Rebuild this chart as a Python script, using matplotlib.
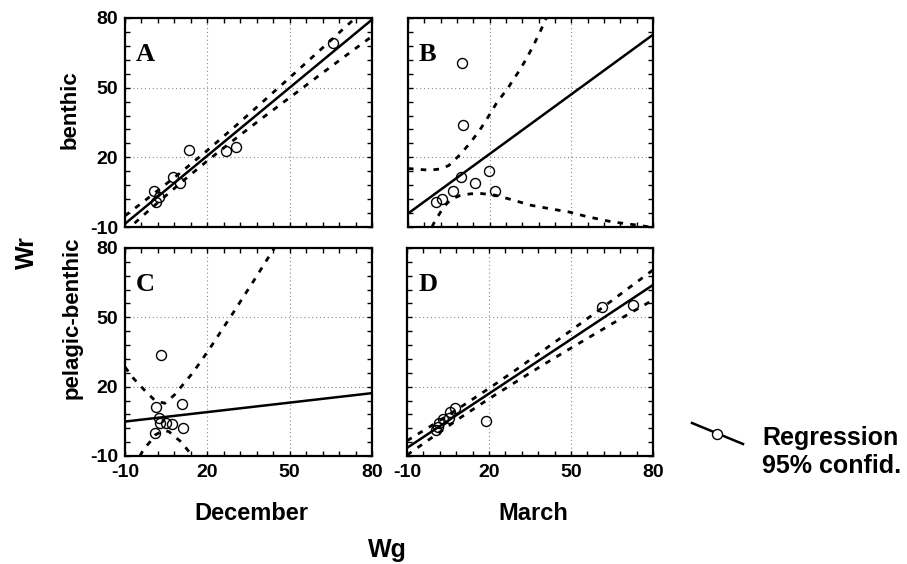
import numpy as np
import matplotlib
matplotlib.use('Agg')
import matplotlib.pyplot as plt
from matplotlib.ticker import FixedLocator
from matplotlib.lines import Line2D

# ---------------- data ----------------
major_ticks = [-10, 20, 50, 80]
tick_labels = ["-10", "20", "50", "80"]
row_labels = ["benthic", "pelagic-benthic"]
col_labels = ["December", "March"]
panel_letters = ["A", "B", "C", "D"]

# scatter points
A_x = [0.6, 2.3, 1.3, 7.5, 10.0, 13.4, 26.8, 30.3, 65.8]
A_y = [5.6, 3.0, 0.8, 11.6, 9.0, 23.1, 22.8, 24.3, 69.2]
B_x = [0.3, 2.4, 6.6, 9.5, 14.6, 19.8, 22.1, 9.9, 10.3]
B_y = [0.9, 1.9, 5.6, 11.7, 8.8, 14.2, 5.6, 60.6, 33.8]
C_x = [3.0, 1.3, 10.7, 2.5, 2.7, 4.9, 7.0, 11.0, 0.9]
C_y = [33.8, 11.3, 12.5, 6.3, 4.4, 4.4, 3.7, 2.0, 0.1]
D_x = [61.2, 72.8, 18.9, 7.5, 5.8, 5.5, 3.0, 1.8, 1.2, 0.5]
D_y = [54.6, 55.3, 5.3, 10.8, 9.2, 6.5, 6.0, 4.3, 2.5, 1.2]

# regression lines (value at x = -10 and x = 80)
line_x = [-10, 80]
A_line = [-8.6, 79.3]
B_line = [-4.2, 72.8]
C_line = [4.9, 17.2]
D_line = [-6.5, 64.0]

# 95% confidence bands
band_x = [-10, 0, 10, 20, 30, 40, 50, 60, 70, 80]
A_up = [-5.2, 3.9, 13.2, 23.0, 33.2, 43.7, 54.3, 65.0, 75.8, 86.5]
A_lo = [-12.0, -1.5, 8.7, 18.5, 27.8, 36.9, 45.7, 54.6, 63.4, 72.1]
D_up = [-3.4, 3.9, 11.45, 19.25, 27.4, 35.8, 44.3, 52.9, 61.7, 70.5]
D_lo = [-9.6, -1.3, 6.95, 14.75, 22.2, 29.6, 36.7, 43.7, 50.7, 57.5]

B_up_x = [-10, -6, -2, 2, 5, 9, 12.7, 16.4, 19.5, 22.5, 26.8, 29, 31, 33.5, 36, 38.5, 41]
B_up_y = [15.2, 14.8, 14.5, 15.0, 16.5, 21.0, 26.0, 31.8, 37.5, 43.3, 50.0, 54.0, 57.5, 62.5, 68.0, 74.0, 80.5]
B_lo_x = [-1.2, 0, 2, 4, 6, 9, 13, 17, 22, 28, 35, 42, 49, 56, 65, 73, 80]
B_lo_y = [-10, -7.2, -3.5, -0.2, 2.0, 3.5, 4.3, 4.4, 3.7, 1.8, -0.6, -2.1, -3.5, -5.6, -7.8, -9.0, -10.2]

C_up_x = [-10, -7, -3, 1, 4.5, 8, 11, 14, 17.4, 21.6, 27.1, 30.1, 33.2, 36.8, 42.3, 45]
C_up_y = [28.5, 23.7, 18.6, 13.9, 12.8, 16.4, 20.7, 25.0, 30.5, 37.8, 47.8, 53.2, 59.0, 65.6, 76.0, 81.0]
C_lo_x = [-4.6, -3, -1.1, 1, 3, 4.5, 6.1, 8, 10, 12, 14.6]
C_lo_y = [-10, -6.8, -4.2, -0.9, 0.4, 1.0, 0.5, -1.6, -3.4, -6.2, -10]

panels = [
    dict(x=A_x, y=A_y, line=A_line, up=(band_x, A_up), lo=(band_x, A_lo)),
    dict(x=B_x, y=B_y, line=B_line, up=(B_up_x, B_up_y), lo=(B_lo_x, B_lo_y)),
    dict(x=C_x, y=C_y, line=C_line, up=(C_up_x, C_up_y), lo=(C_lo_x, C_lo_y)),
    dict(x=D_x, y=D_y, line=D_line, up=(band_x, D_up), lo=(band_x, D_lo)),
]

# ---------------- figure ----------------
W, H = 907, 564
fig = plt.figure(figsize=(W / 100, H / 100), dpi=100)
SANS = ['Liberation Sans', 'DejaVu Sans']
SERIF = ['Liberation Serif', 'DejaVu Serif']

# axes boxes in pixels: left, top, right, bottom
boxes = [(125, 18, 372, 227), (408, 18, 653, 227),
         (125, 248, 372, 456), (407, 248, 653, 456)]

minor = np.arange(-10, 81, 6)
for i, (p, (l, t, r, b)) in enumerate(zip(panels, boxes)):
    ax = fig.add_axes([l / W, 1 - b / H, (r - l) / W, (b - t) / H])
    ax.set_xlim(-10, 80)
    ax.set_ylim(-10, 80)
    ax.xaxis.set_major_locator(FixedLocator(major_ticks))
    ax.yaxis.set_major_locator(FixedLocator(major_ticks))
    ax.xaxis.set_minor_locator(FixedLocator(minor))
    ax.yaxis.set_minor_locator(FixedLocator(minor))
    ax.tick_params(which='both', direction='in', top=True, right=True,
                   length=3.5, width=1.0, colors='black')
    ax.tick_params(axis='x', pad=5.5)
    ax.tick_params(axis='y', pad=5)
    for s in ax.spines.values():
        s.set_linewidth(1.6)
    ax.grid(True, which='major', color='#8a8a8a', linestyle=(0, (1, 2.5)), linewidth=0.8)
    ax.set_axisbelow(True)

    row, col = divmod(i, 2)
    if col == 0:
        ax.set_yticklabels(tick_labels, fontfamily=SANS, fontweight='bold', fontsize=14)
    else:
        ax.set_yticklabels([])
    if row == 1:
        ax.set_xticklabels(tick_labels, fontfamily=SANS, fontweight='bold', fontsize=14)
    else:
        ax.set_xticklabels([])

    ax.plot(p['up'][0], p['up'][1], color='black', lw=2.0, dashes=(2, 2.6), zorder=3)
    ax.plot(p['lo'][0], p['lo'][1], color='black', lw=2.0, dashes=(2, 2.6), zorder=3)
    ax.plot(line_x, p['line'], color='black', lw=1.8, zorder=4)
    ax.plot(p['x'], p['y'], linestyle='none', marker='o', ms=7.2,
            mfc='none', mec='black', mew=1.0, zorder=5)
    ax.text(0.045, 0.795, panel_letters[i], transform=ax.transAxes,
            fontfamily=SERIF, fontweight='bold', fontsize=19, ha='left', va='baseline')

# row / column / axis labels
fig.text(70 / W, 1 - 110 / H, row_labels[0], rotation=90, ha='center', va='center',
         fontfamily=SANS, fontweight='bold', fontsize=16)
fig.text(72 / W, 1 - 318 / H, row_labels[1], rotation=90, ha='center', va='center',
         fontfamily=SANS, fontweight='bold', fontsize=16)
fig.text(27 / W, 1 - 253 / H, "Wr", rotation=90, ha='center', va='center',
         fontfamily=SANS, fontweight='bold', fontsize=18)
fig.text(251 / W, 1 - 520 / H, col_labels[0], ha='center', va='baseline',
         fontfamily=SANS, fontweight='bold', fontsize=17)
fig.text(533 / W, 1 - 520 / H, col_labels[1], ha='center', va='baseline',
         fontfamily=SANS, fontweight='bold', fontsize=17)
fig.text(387 / W, 1 - 557 / H, "Wg", ha='center', va='baseline',
         fontfamily=SANS, fontweight='bold', fontsize=18)

# legend
fig.add_artist(Line2D([692 / W, 743 / W], [1 - 423 / H, 1 - 444 / H],
                      transform=fig.transFigure, color='black', lw=1.8))
fig.add_artist(Line2D([717 / W], [1 - 433.5 / H], transform=fig.transFigure,
                      linestyle='none', marker='o', ms=7.2, mfc='white', mec='black', mew=1.0))
fig.text(762 / W, 1 - 445 / H, "Regression", ha='left', va='baseline',
         fontfamily=SANS, fontweight='bold', fontsize=18)
fig.text(762 / W, 1 - 473 / H, "95% confid.", ha='left', va='baseline',
         fontfamily=SANS, fontweight='bold', fontsize=18)

fig.savefig('out.png', dpi=100)
